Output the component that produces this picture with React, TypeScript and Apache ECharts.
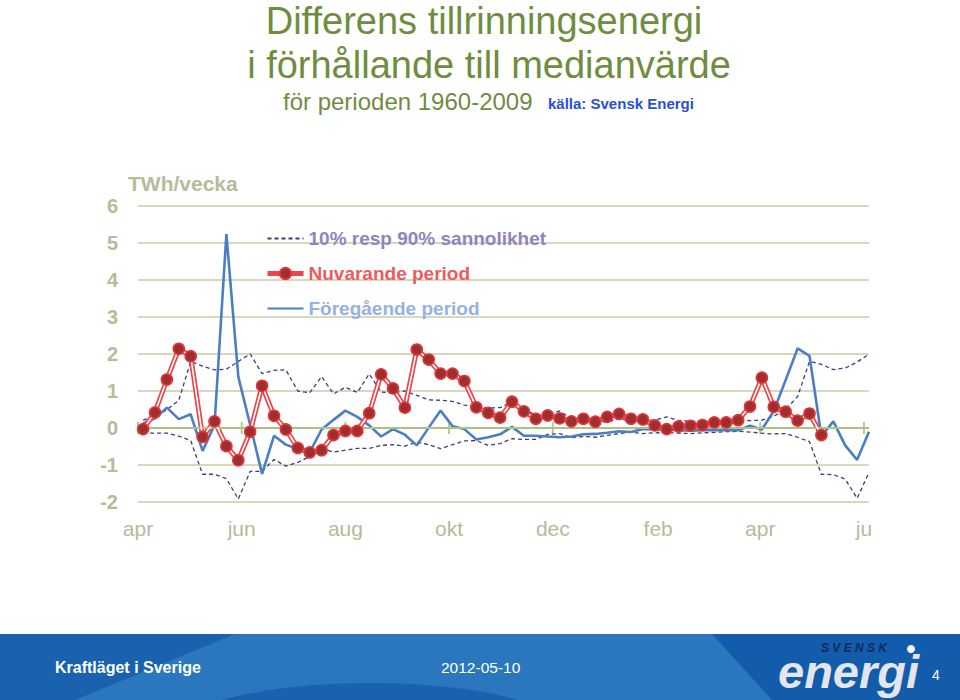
import React, { useEffect, useRef } from 'react';
import * as echarts from 'echarts';

// ---- data ----
const AXIS_ORIGIN = '2011-04-01';
const FIRST_WEEK = '2011-04-04';
const monthTickDates = ['2011-04-01', '2011-06-01', '2011-08-01', '2011-10-01', '2011-12-01', '2012-02-01', '2012-04-01', '2012-06-01'];
const monthTickLabels = ['apr', 'jun', 'aug', 'okt', 'dec', 'feb', 'apr', 'ju'];

const LBL_PROB = '10% resp 90% sannolikhet';
const LBL_NOW = 'Nuvarande period';
const LBL_PREV = 'Föregående period';

// Nuvarande period (weekly, from week 14 2011)
const nuvarande = [
  -0.03, 0.42, 1.31, 2.14, 1.94, -0.24, 0.18, -0.49, -0.87, -0.1,
  1.14, 0.33, -0.04, -0.54, -0.66, -0.6, -0.19, -0.08, -0.08, 0.4,
  1.45, 1.07, 0.55, 2.12, 1.85, 1.47, 1.47, 1.27, 0.56, 0.41,
  0.28, 0.71, 0.45, 0.25, 0.34, 0.26, 0.18, 0.25, 0.17, 0.3,
  0.38, 0.25, 0.23, 0.07, -0.03, 0.04, 0.06, 0.08, 0.15, 0.15,
  0.21, 0.58, 1.36, 0.57, 0.44, 0.2, 0.39, -0.19,
];

// Föregående period
const foregaende = [
  0.12, 0.26, 0.55, 0.24, 0.37, -0.62, 0.08, 5.24, 1.39, 0.08,
  -1.24, -0.21, -0.45, -0.57, -0.66, -0.04, 0.22, 0.47, 0.3, 0.07,
  -0.23, -0.03, -0.18, -0.47, 0.01, 0.47, 0.05, -0.03, -0.31, -0.25,
  -0.17, 0.03, -0.21, -0.21, -0.23, -0.25, -0.23, -0.17, -0.16, -0.13,
  -0.09, -0.11, -0.03, -0.04, -0.04, -0.06, -0.07, -0.06, -0.06, -0.06,
  -0.06, 0.06, -0.04, 0.46, 1.3, 2.15, 1.95, -0.23, 0.18, -0.47,
  -0.86, -0.1,
];

// 90 % sannolikhet (upper band)
const upper90 = [
  0.21, 0.33, 0.49, 0.75, 1.8, 1.67, 1.57, 1.59, 1.8, 2.0,
  1.47, 1.56, 1.57, 1.0, 0.95, 1.39, 0.92, 1.1, 0.96, 1.46,
  0.97, 0.95, 1.0, 0.88, 0.76, 0.75, 0.72, 0.62, 0.55, 0.54,
  0.55, 0.7, 0.48, 0.37, 0.37, 0.46, 0.25, 0.25, 0.21, 0.15,
  0.26, 0.16, 0.2, 0.22, 0.3, 0.2, 0.18, 0.17, 0.18, 0.2,
  0.21, 0.2, 0.21, 0.32, 0.5, 0.85, 1.8, 1.72, 1.58, 1.62,
  1.78, 2.0,
];

// 10 % sannolikhet (lower band)
const lower10 = [
  -0.13, -0.14, -0.14, -0.22, -0.34, -1.25, -1.25, -1.37, -1.92, -1.17,
  -1.17, -0.85, -1.03, -0.93, -0.77, -0.55, -0.65, -0.6, -0.55, -0.55,
  -0.47, -0.45, -0.49, -0.38, -0.45, -0.56, -0.45, -0.35, -0.34, -0.47,
  -0.42, -0.29, -0.31, -0.31, -0.17, -0.15, -0.26, -0.23, -0.25, -0.2,
  -0.15, -0.11, -0.15, -0.13, -0.12, -0.14, -0.15, -0.13, -0.12, -0.1,
  -0.09, -0.11, -0.14, -0.16, -0.15, -0.25, -0.37, -1.25, -1.26, -1.38,
  -1.9, -1.2,
];

const Y_MIN = -2;
const Y_MAX = 6;

// ---- helpers ----
const DAY = 86400000;
const dayOf = (d: string) => Math.round((Date.parse(d) - Date.parse(AXIS_ORIGIN)) / DAY);
const firstWeekDay = dayOf(FIRST_WEEK);
const weekDay = (i: number) => firstWeekDay + 7 * i;
const toPairs = (arr: number[]) => arr.map((v, i) => [weekDay(i), v]);
const monthTickDays = monthTickDates.map(dayOf);
const X_MAX = weekDay(foregaende.length - 1);

const FONT = '"Liberation Sans", Arial, sans-serif';
const AXIS_TEXT = '#b5bc99';
const GREEN_TITLE = '#6f8d3f';
const HIDDEN_SYMBOL = { color: 'rgba(0,0,0,0)', borderColor: 'rgba(0,0,0,0)', borderWidth: 0, opacity: 0 };

export default function App() {
  const ref = useRef<HTMLDivElement>(null);

  useEffect(() => {
    if (!ref.current) return;
    const chart = echarts.init(ref.current, null, { renderer: 'svg' });

    const option: any = {
      animation: false,
      backgroundColor: '#ffffff',
      grid: { left: 138, right: 91, top: 206, bottom: 198, containLabel: false, outerBoundsMode: 'none' },
      xAxis: {
        type: 'value',
        min: 0,
        max: X_MAX,
        axisLine: { show: false },
        axisTick: { show: false },
        splitLine: { show: false },
        axisLabel: {
          customValues: monthTickDays,
          formatter: (v: number) => {
            const idx = monthTickDays.indexOf(Math.round(v));
            return idx >= 0 ? monthTickLabels[idx] : '';
          },
          color: AXIS_TEXT,
          fontSize: 21,
          fontFamily: FONT,
          margin: 16,
        },
      },
      yAxis: {
        type: 'value',
        min: Y_MIN,
        max: Y_MAX,
        interval: 1,
        axisLine: { show: false },
        axisTick: { show: false },
        axisLabel: { color: AXIS_TEXT, fontSize: 20, fontWeight: 'bold', fontFamily: FONT, margin: 20 },
        splitLine: { lineStyle: { color: '#c9cca9', width: 1.6 } },
      },
      legend: {
        orient: 'vertical',
        left: 265,
        top: 228,
        padding: 0,
        itemWidth: 36,
        itemHeight: 14,
        itemGap: 14,
        selectedMode: false,
        textStyle: { fontSize: 19, fontWeight: 'bold', fontFamily: FONT, lineHeight: 21 },
        data: [
          { name: LBL_PROB, textStyle: { color: '#9183c0' }, itemStyle: HIDDEN_SYMBOL },
          { name: LBL_NOW, textStyle: { color: '#ec5b5e' }, lineStyle: { color: '#e9474b', width: 5 } },
          { name: LBL_PREV, textStyle: { color: '#96b1e2' }, itemStyle: HIDDEN_SYMBOL },
        ],
      },
      series: [
        {
          type: 'scatter',
          data: monthTickDays.map((d) => [d, 0]),
          symbol: 'rect',
          symbolSize: [2, 12],
          itemStyle: { color: '#a4bd72' },
          silent: true,
          z: 1,
          markLine: {
            silent: true,
            symbol: 'none',
            label: { show: false },
            lineStyle: { color: '#adc282', width: 2, type: 'solid' },
            data: [{ yAxis: 0 }],
          },
        },
        {
          name: LBL_PROB,
          type: 'line',
          data: toPairs(upper90),
          symbol: 'none',
          lineStyle: { color: '#3f3b7d', width: 1.3, type: [4, 3] },
          itemStyle: { color: '#3f3b7d' },
          z: 2,
        },
        {
          name: LBL_PROB,
          type: 'line',
          data: toPairs(lower10),
          symbol: 'none',
          lineStyle: { color: '#3f3b7d', width: 1.3, type: [4, 3] },
          itemStyle: { color: '#3f3b7d' },
          z: 2,
        },
        {
          name: LBL_PREV,
          type: 'line',
          data: toPairs(foregaende),
          symbol: 'none',
          lineStyle: { color: '#4a7fc1', width: 2.6 },
          itemStyle: { color: '#4a7fc1' },
          z: 3,
        },
        {
          name: LBL_NOW,
          type: 'line',
          data: toPairs(nuvarande),
          symbol: 'circle',
          symbolSize: 11,
          lineStyle: { color: '#ffffff', width: 1.6 },
          itemStyle: { color: '#9e2f2f', borderColor: '#e2343a', borderWidth: 1.6 },
          z: 5,
        },
        {
          name: LBL_NOW,
          type: 'line',
          data: toPairs(nuvarande),
          symbol: 'none',
          lineStyle: { color: '#e9474b', width: 5 },
          itemStyle: { color: '#e9474b' },
          z: 4,
        },
      ],
      graphic: [
        { type: 'text', x: 484, y: 21, style: { text: 'Differens tillrinningsenergi', fill: GREEN_TITLE, font: `normal 38px ${FONT}`, textAlign: 'center', textVerticalAlign: 'middle' } },
        { type: 'text', x: 489, y: 65, style: { text: 'i förhållande till medianvärde', fill: GREEN_TITLE, font: `normal 38px ${FONT}`, textAlign: 'center', textVerticalAlign: 'middle' } },
        { type: 'text', x: 283, y: 101, style: { text: 'för perioden 1960-2009', fill: GREEN_TITLE, font: `normal 24px ${FONT}`, textAlign: 'left', textVerticalAlign: 'middle' } },
        { type: 'text', x: 548, y: 103, style: { text: 'källa: Svensk Energi', fill: '#2b50d0', font: `bold 15px ${FONT}`, textAlign: 'left', textVerticalAlign: 'middle' } },
        { type: 'text', x: 128, y: 183, style: { text: 'TWh/vecka', fill: AXIS_TEXT, font: `bold 21px ${FONT}`, textAlign: 'left', textVerticalAlign: 'middle' } },
        // footer band
        { type: 'rect', shape: { x: 0, y: 634, width: 960, height: 66 }, style: { fill: '#1a62ad' }, z: 10 },
        { type: 'polygon', shape: { points: [[235, 634], [700, 634], [790, 700], [75, 700]] }, style: { fill: '#2a77bd' }, z: 11 },
        { type: 'ellipse', shape: { cx: 370, cy: 735, rx: 200, ry: 52 }, style: { fill: '#1a62ad' }, z: 12 },
        { type: 'polygon', shape: { points: [[700, 634], [960, 634], [960, 700], [760, 700]] }, style: { fill: '#135cab' }, z: 12 },
        { type: 'polygon', shape: { points: [[690, 634], [712, 634], [772, 700], [752, 700]] }, style: { fill: '#2a77bd' }, z: 13 },
        { type: 'text', x: 55, y: 667, style: { text: 'Kraftläget i Sverige', fill: '#ffffff', font: `bold 16px ${FONT}`, textAlign: 'left', textVerticalAlign: 'middle' }, z: 20 },
        { type: 'text', x: 441, y: 667, style: { text: '2012-05-10', fill: '#ffffff', font: `normal 15.5px ${FONT}`, textAlign: 'left', textVerticalAlign: 'middle' }, z: 20 },
        { type: 'text', x: 778, y: 671, style: { text: 'energi', fill: '#e3e6ec', font: `italic bold 47px ${FONT}`, lineHeight: 30, textAlign: 'left', textVerticalAlign: 'middle' }, z: 20 },
        { type: 'text', x: 821, y: 648, style: { text: 'S V E N S K', fill: '#0f2a5a', font: `italic bold 12px ${FONT}`, lineHeight: 12, textAlign: 'left', textVerticalAlign: 'middle' }, z: 20 },
        { type: 'circle', shape: { cx: 911, cy: 649, r: 4 }, style: { fill: '#ffffff' }, z: 20 },
        { type: 'text', x: 932, y: 675, style: { text: '4', fill: '#ffffff', font: `normal 14px ${FONT}`, textAlign: 'left', textVerticalAlign: 'middle' }, z: 20 },
      ],
    };

    chart.setOption(option);
    return () => chart.dispose();
  }, []);

  return <div ref={ref} style={{ position: 'absolute', left: 0, top: 0, width: 960, height: 700 }} />;
}
